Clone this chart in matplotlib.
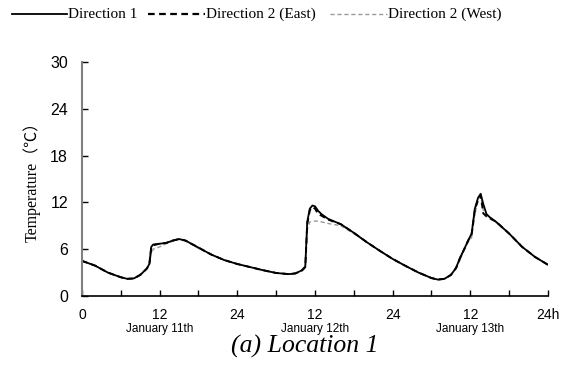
import matplotlib
matplotlib.use("Agg")
import matplotlib.pyplot as plt
from matplotlib.lines import Line2D
from matplotlib.ticker import FixedLocator

# hours since 0:00 on January 11th
hours = [0, 2, 4, 6, 7, 8, 9, 10, 10.4, 10.7, 11, 12, 13, 14, 15, 16, 18, 20, 22, 24,
         26, 28, 30, 32, 33, 34, 34.5, 34.8, 35.2, 35.6, 36, 36.5, 37, 38, 40, 42, 44,
         46, 48, 50, 52, 54, 55, 56, 57, 57.8, 58.4, 59, 59.6, 60.2, 60.7, 61.2, 61.6,
         62, 62.5, 63, 64, 66, 68, 70, 72]

dir1 = [4.5, 3.9, 3.0, 2.4, 2.2, 2.25, 2.7, 3.5, 4.1, 6.3, 6.6, 6.7, 6.8, 7.1, 7.3, 7.1,
        6.2, 5.3, 4.6, 4.1, 3.7, 3.3, 2.95, 2.8, 2.9, 3.3, 3.8, 9.5, 11.2, 11.6, 11.5,
        10.9, 10.5, 9.9, 9.2, 8.1, 6.9, 5.8, 4.75, 3.85, 3.0, 2.3, 2.1, 2.2, 2.7, 3.6,
        4.9, 5.9, 7.0, 8.0, 11.2, 12.6, 13.1, 11.8, 10.5, 10.1, 9.5, 8.0, 6.3, 5.0, 4.0]

dir2_east = [4.5, 3.9, 3.0, 2.4, 2.2, 2.25, 2.7, 3.5, 4.0, 6.2, 6.5, 6.7, 6.8, 7.1, 7.3, 7.1,
             6.2, 5.3, 4.6, 4.1, 3.7, 3.3, 2.95, 2.8, 2.9, 3.3, 3.7, 9.2, 11.0, 11.4, 11.2,
             10.5, 10.3, 9.8, 9.2, 8.1, 6.9, 5.8, 4.75, 3.85, 3.0, 2.3, 2.1, 2.2, 2.7, 3.6,
             4.8, 5.9, 7.0, 7.9, 11.0, 12.4, 12.9, 10.6, 10.2, 10.0, 9.5, 8.0, 6.3, 5.0, 4.0]

dir2_west = [4.5, 3.9, 3.0, 2.4, 2.2, 2.25, 2.7, 3.5, 3.9, 5.5, 6.0, 6.3, 6.7, 7.0, 7.3, 7.1,
             6.1, 5.3, 4.6, 4.1, 3.7, 3.3, 2.95, 2.8, 2.9, 3.2, 3.6, 8.5, 9.5, 9.6, 9.6,
             9.6, 9.5, 9.3, 9.0, 8.0, 6.9, 5.8, 4.75, 3.85, 3.0, 2.3, 2.1, 2.2, 2.7, 3.5,
             4.6, 5.8, 6.8, 7.5, 10.5, 12.2, 12.8, 11.0, 10.2, 9.9, 9.4, 8.0, 6.3, 5.0, 4.0]

x_ticks = [0, 12, 24, 36, 48, 60, 72]
x_labels = ["0", "12", "24", "12", "24", "12", "24h"]
day_pos = [12, 36, 60]
day_labels = ["January 11th", "January 12th", "January 13th"]
y_ticks = [0, 6, 12, 18, 24, 30]

serif = ["Liberation Serif", "Noto Sans CJK JP"]
narrow = ["Liberation Sans Narrow", "Liberation Sans"]

fig = plt.figure(figsize=(5.64, 3.67), dpi=100)
ax = fig.add_axes([0.1454, 0.1935, 0.8262, 0.6376])

ax.plot(hours, dir2_west, color="#9a9a9a", lw=1.0, ls=(0, (3, 2)))
ax.plot(hours, dir2_east, color="black", lw=1.4, ls=(0, (3, 2)))
ax.plot(hours, dir1, color="black", lw=1.3)

ax.set_xlim(0, 72)
ax.set_ylim(0, 30)
for s in ["top", "right"]:
    ax.spines[s].set_visible(False)
ax.spines["left"].set_color("#808080")
ax.spines["left"].set_linewidth(1.5)
ax.spines["bottom"].set_linewidth(1.2)

ax.set_xticks(x_ticks)
ax.set_xticklabels(x_labels, fontfamily=narrow, fontsize=10)
ax.xaxis.set_minor_locator(FixedLocator([6, 18, 30, 42, 54, 66]))
ax.tick_params(axis="x", which="both", direction="in", length=4, width=1, pad=9)
ax.set_yticks(y_ticks)
ax.set_yticklabels([str(v) for v in y_ticks], fontfamily=narrow, fontsize=11.5)
ax.tick_params(axis="y", direction="in", length=4, width=1, pad=10)

for p, lab in zip(day_pos, day_labels):
    ax.text(p, -0.115, lab, transform=ax.get_xaxis_transform(), ha="center", va="top",
            fontsize=8.5, family=narrow)

fig.text(0.057, 1 - 178 / 367, "Temperature（℃）", rotation=90, ha="center", va="center",
         fontsize=11.5, family=serif)

fig.text(0.54, 0.057, "(a) Location 1", ha="center", va="center", fontsize=18.5,
         style="italic", family=serif)

# legend row along the top
W, H = 564, 367
def legend_item(x0, x1, text, **kw):
    fig.add_artist(Line2D([x0 / W, x1 / W], [1 - 14 / H] * 2, transform=fig.transFigure, **kw))
    fig.text((x1 + 1) / W, 1 - 14 / H, text, ha="left", va="center", fontsize=11, family=serif)

legend_item(12, 67, "Direction 1", color="black", lw=1.3)
legend_item(148, 205, "Direction 2 (East)", color="black", lw=1.6, ls=(0, (3, 2)))
legend_item(330, 387, "Direction 2 (West)", color="#9a9a9a", lw=1.0, ls=(0, (3, 2)))

fig.savefig("out.png", dpi=100)
